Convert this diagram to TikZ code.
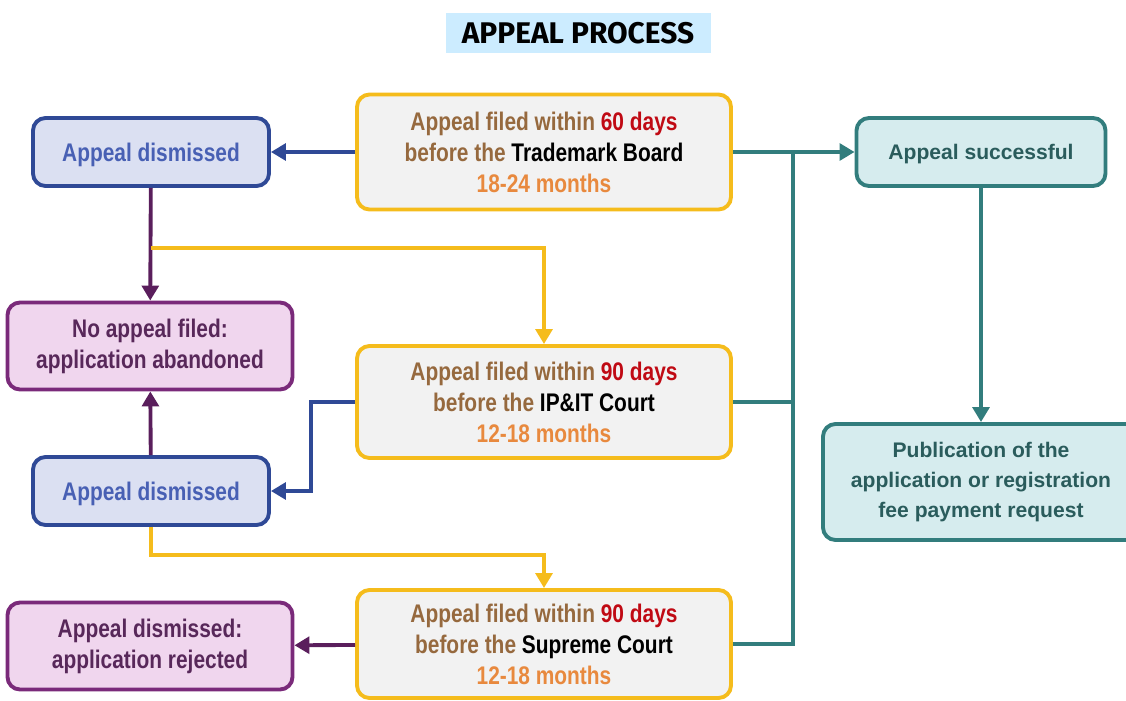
\documentclass[tikz,border=0pt]{standalone}
\usepackage{xcolor}
\usepackage{fontspec}
\setmainfont{Liberation Sans}
\newfontfamily\narrowfont{Liberation Sans}[FakeStretch=0.82]
\newfontfamily\titlefont{Fira Sans}
\usepackage{tikz}
\usetikzlibrary{shapes,arrows.meta}
\definecolor{ylw}{RGB}{245,188,28}
\definecolor{lgray}{RGB}{242,242,242}
\definecolor{brn}{RGB}{150,105,62}
\definecolor{dred}{RGB}{192,10,20}
\definecolor{orng}{RGB}{232,137,62}
\definecolor{bluedge}{RGB}{47,73,150}
\definecolor{bluefill}{RGB}{219,224,242}
\definecolor{bluetext}{RGB}{72,96,180}
\definecolor{purpedge}{RGB}{122,42,122}
\definecolor{purpfill}{RGB}{240,214,238}
\definecolor{purptext}{RGB}{88,40,90}
\definecolor{purpline}{RGB}{90,30,92}
\definecolor{tealedge}{RGB}{50,125,125}
\definecolor{tealfill}{RGB}{214,236,238}
\definecolor{tealtext}{RGB}{42,92,92}
\definecolor{titlebg}{RGB}{204,236,255}
\tikzstyle{court} = [rectangle, rounded corners=0.25cm, draw=ylw, fill=lgray, line width=2.2pt, minimum width=7.48cm, align=center, font=\narrowfont\bfseries\fontsize{14.5}{17.6}\selectfont, text=brn]
\tikzstyle{dismissed} = [rectangle, rounded corners=0.25cm, draw=bluedge, fill=bluefill, line width=2.2pt, minimum width=4.72cm, minimum height=1.36cm, text height=13pt, text depth=2pt, align=center, font=\narrowfont\bfseries\fontsize{14.5}{17.6}\selectfont, text=bluetext]
\tikzstyle{final} = [rectangle, rounded corners=0.25cm, draw=purpedge, fill=purpfill, line width=2.2pt, minimum width=5.7cm, minimum height=1.74cm, align=center, font=\narrowfont\bfseries\fontsize{14.5}{17.6}\selectfont, text=purptext]
\tikzstyle{success} = [rectangle, rounded corners=0.25cm, draw=tealedge, fill=tealfill, line width=2.2pt, align=center, font=\bfseries\fontsize{12}{17.3}\selectfont, text=tealtext]
\tikzstyle{line} = [draw, line width=2.2pt, -{Triangle[length=8.5pt,width=9.5pt]}]

\begin{document}
\begin{tikzpicture}
\useasboundingbox (0,0) rectangle (22.52,-14);
\node [fill=titlebg, minimum width=5.3cm, minimum height=0.8cm, font=\titlefont\bfseries\fontsize{17}{20}\selectfont] (title) at (11.56,-0.66) {APPEAL PROCESS};

% courts
\node [court, minimum height=2.3cm] (board) at (10.88,-3.04) {Appeal filed within \textcolor{dred}{60 days}\\ before the \textcolor{black}{Trademark Board}\\ \textcolor{orng}{18-24 months}};
\node [court, minimum height=2.24cm] (ipit) at (10.88,-8.04) {Appeal filed within \textcolor{dred}{90 days}\\ before the \textcolor{black}{IP\&IT Court}\\ \textcolor{orng}{12-18 months}};
\node [court, minimum height=2.16cm] (supreme) at (10.88,-12.88) {Appeal filed within \textcolor{dred}{90 days}\\ before the \textcolor{black}{Supreme Court}\\ \textcolor{orng}{12-18 months}};

% left side
\node [dismissed] (dis-board) at (3.02,-3.04) {Appeal dismissed};
\node [final] (abandoned) at (3.0,-6.92) {No appeal filed:\\ application abandoned};
\node [dismissed] (dis-ipit) at (3.02,-9.82) {Appeal dismissed};
\node [final] (rejected) at (3.0,-12.92) {Appeal dismissed:\\ application rejected};

% right side
\node [success, minimum width=4.98cm, minimum height=1.36cm, text height=11pt, text depth=2pt] (ok) at (19.62,-3.04) {Appeal successful};
\node [success, minimum width=6.32cm, minimum height=2.32cm] (publish) at (19.62,-9.64) {Publication of the\\ application or registration\\ fee payment request};

\coordinate (join) at (15.86,-3.04);
\coordinate (split1) at (3.02,-4.96);
\coordinate (split2) at (3.02,-11.1);

\path [line, bluedge] (board) -- (dis-board);
\path [line, purpline] (dis-board) -- (abandoned);
\path [line, ylw] (split1) -| (ipit);
\path [line, bluedge] (ipit.west) -- ++(-0.88,0) |- (dis-ipit);
\path [line, purpline] (dis-ipit) -- (abandoned);
\path [line, ylw] (dis-ipit.south) |- (split2) -| (supreme);
\path [line, purpline] (supreme) -- (rejected);
\path [line, tealedge] (board) -- (ok);
\path [draw, line width=2.2pt, tealedge] (ipit.east) -| (join) (supreme.east) -| (join);
\path [line, tealedge] (ok) -- (publish);
\end{tikzpicture}
\end{document}
